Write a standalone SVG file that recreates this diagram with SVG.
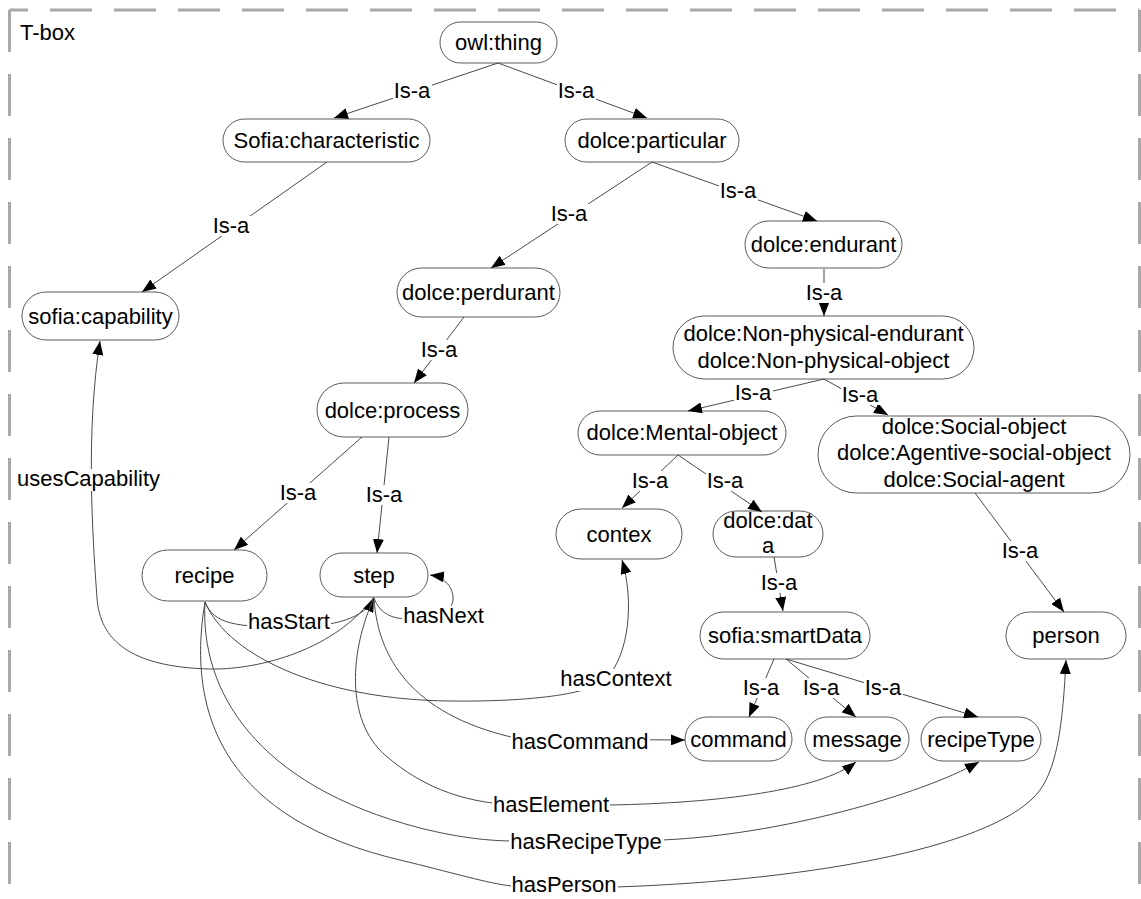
<svg xmlns="http://www.w3.org/2000/svg" width="1141" height="899" viewBox="0 0 1141 899">
  <defs>
    <marker id="arr" markerUnits="userSpaceOnUse" viewBox="0 0 14 11" markerWidth="14" markerHeight="11" refX="14" refY="5.5" orient="auto">
      <path d="M0,0 L14,5.5 L0,11 z" fill="#000"/>
    </marker>
    <style>
      text { font-family: "Liberation Sans", Arial, sans-serif; font-size: 22px; fill: #000; }
      .node rect { fill: #fff; stroke: #5a5a5a; stroke-width: 1; }
      .node text { text-anchor: middle; }
      .edge { fill: none; stroke: #4a4a4a; stroke-width: 1; marker-end: url(#arr); }
      .lbl rect { fill: #fff; }
      .lbl text { text-anchor: middle; }
      .frame { fill: none; stroke: #a8a8a8; stroke-width: 3; stroke-dasharray: 42 22; }
    </style>
  </defs>

  <rect width="1141" height="899" fill="#fff"/>

  <!-- dashed T-box frame -->
  <g id="frame">
    <line class="frame" x1="9.5" y1="10" x2="9.5" y2="899"/>
    <line class="frame" x1="9.5" y1="10" x2="1139.5" y2="10" stroke-dashoffset="23.5"/>
    <line class="frame" x1="1139.5" y1="10" x2="1139.5" y2="899"/>
    <text x="20" y="40">T-box</text>
  </g>

  <!-- classes -->
  <g id="nodes">
    <g id="owl-thing" class="node"><rect x="440" y="22" width="117" height="41" rx="20.5"/><text x="498.5" y="50">owl:thing</text></g>
    <g id="sofia-characteristic" class="node"><rect x="223" y="119" width="207" height="43" rx="21.5"/><text x="326.5" y="148">Sofia:characteristic</text></g>
    <g id="dolce-particular" class="node"><rect x="565" y="119" width="174" height="43" rx="21.5"/><text x="652" y="148">dolce:particular</text></g>
    <g id="dolce-endurant" class="node"><rect x="745" y="221" width="157" height="47" rx="23.5"/><text x="823.5" y="252">dolce:endurant</text></g>
    <g id="sofia-capability" class="node"><rect x="22" y="292" width="157" height="48" rx="24"/><text x="100.5" y="323.5">sofia:capability</text></g>
    <g id="dolce-perdurant" class="node"><rect x="397" y="268" width="163" height="49" rx="24.5"/><text x="478.5" y="300">dolce:perdurant</text></g>
    <g id="dolce-process" class="node"><rect x="317" y="383" width="151" height="54" rx="27"/><text x="392.5" y="417.5">dolce:process</text></g>
    <g id="recipe" class="node"><rect x="142" y="550" width="125" height="51" rx="25.5"/><text x="204.5" y="583">recipe</text></g>
    <g id="step" class="node"><rect x="320" y="553" width="108" height="44" rx="22"/><text x="374" y="582.5">step</text></g>
    <g id="dolce-non-physical" class="node"><rect x="673" y="316" width="301" height="63" rx="31.5"/><text x="823.5" y="341">dolce:Non-physical-endurant</text><text x="823.5" y="368">dolce:Non-physical-object</text></g>
    <g id="dolce-mental-object" class="node"><rect x="578" y="411" width="208" height="44" rx="22"/><text x="682" y="440">dolce:Mental-object</text></g>
    <g id="dolce-social-object" class="node"><rect x="818" y="416" width="312" height="77" rx="38.5"/><text x="974" y="434">dolce:Social-object</text><text x="974" y="460">dolce:Agentive-social-object</text><text x="974" y="487">dolce:Social-agent</text></g>
    <g id="contex" class="node"><rect x="556" y="509" width="126" height="50" rx="25"/><text x="619" y="541.5">contex</text></g>
    <g id="dolce-data" class="node"><rect x="713" y="511" width="110" height="46" rx="23"/><text x="768" y="528">dolce:dat</text><text x="768" y="553">a</text></g>
    <g id="sofia-smartdata" class="node"><rect x="700" y="612" width="170" height="47" rx="23.5"/><text x="785" y="643">sofia:smartData</text></g>
    <g id="person" class="node"><rect x="1006" y="612" width="120" height="47" rx="23.5"/><text x="1066" y="643">person</text></g>
    <g id="command" class="node"><rect x="685" y="717" width="107" height="44" rx="22"/><text x="738.5" y="746.5">command</text></g>
    <g id="message" class="node"><rect x="805" y="717" width="104" height="44" rx="22"/><text x="857" y="746.5">message</text></g>
    <g id="recipeType" class="node"><rect x="921" y="717" width="120" height="44" rx="22"/><text x="981" y="746.5">recipeType</text></g>
  </g>

  <!-- relations -->
  <g id="connectors">
    <!-- subclass links -->
    <path class="edge" d="M498,63 L334,118"/>
    <path class="edge" d="M498,63 L647,118"/>
    <path class="edge" d="M327,162 L142,292"/>
    <path class="edge" d="M652,162 L491,268"/>
    <path class="edge" d="M652,162 L817,221"/>
    <path class="edge" d="M824,269 L824,316"/>
    <path class="edge" d="M464,317 L414,383"/>
    <path class="edge" d="M362,437 L234,550"/>
    <path class="edge" d="M389,437 L377,553"/>
    <path class="edge" d="M824,379 L688,411"/>
    <path class="edge" d="M824,379 L888,415"/>
    <path class="edge" d="M678,455 L622,508"/>
    <path class="edge" d="M678,455 L762,512"/>
    <path class="edge" d="M774,557 L783,611"/>
    <path class="edge" d="M975,493 L1064,612"/>
    <path class="edge" d="M774,659 L749,717"/>
    <path class="edge" d="M786,659 L856,717"/>
    <path class="edge" d="M786,659 L978,717"/>

    <!-- object properties -->
    <path class="edge" d="M374,597 C330,655 250,670 210,669 C130,667 100,640 97,598 C92,530 86,430 100,341"/>
    <path class="edge" d="M205,602 C214,624 235,627 289,627 C335,627 365,618 374,598"/>
    <path class="edge" d="M374,598 C380,614 392,619 410,619 C440,619 452,610 453,600 C454,588 445,577 430,575"/>
    <path class="edge" d="M205,602 C230,660 330,700 450,701 C530,702 590,694 605,680 C630,655 634,600 622,560"/>
    <path class="edge" d="M374,598 C378,665 420,718 520,739 L685,740"/>
    <path class="edge" d="M374,598 C350,650 345,720 385,755 C425,790 470,804 520,805 L610,805 C720,803 820,790 856,762"/>
    <path class="edge" d="M205,602 C200,690 255,785 420,828 C460,838 490,841 515,841 L662,840 C780,835 920,795 979,762"/>
    <path class="edge" d="M205,602 C185,720 230,820 400,860 C450,872 490,884 512,886 L616,887 C820,880 1000,845 1040,790 C1058,765 1063,720 1066,660"/>

    <!-- link labels -->
    <g class="lbl">
      <rect x="393" y="81" width="39" height="20"/><text x="412" y="98">Is-a</text>
      <rect x="557" y="81" width="39" height="20"/><text x="576" y="98">Is-a</text>
      <rect x="212" y="216" width="39" height="20"/><text x="231" y="233">Is-a</text>
      <rect x="550" y="204" width="39" height="20"/><text x="569" y="221">Is-a</text>
      <rect x="719" y="181" width="39" height="20"/><text x="738" y="198">Is-a</text>
      <rect x="805" y="283" width="39" height="20"/><text x="824" y="300">Is-a</text>
      <rect x="420" y="340" width="39" height="20"/><text x="439" y="357">Is-a</text>
      <rect x="279" y="483" width="39" height="20"/><text x="298" y="500">Is-a</text>
      <rect x="365" y="485" width="39" height="20"/><text x="384" y="502">Is-a</text>
      <rect x="734" y="383" width="39" height="20"/><text x="753" y="400">Is-a</text>
      <rect x="841" y="385" width="39" height="20"/><text x="860" y="402">Is-a</text>
      <rect x="631" y="471" width="39" height="20"/><text x="650" y="488">Is-a</text>
      <rect x="706" y="471" width="39" height="20"/><text x="725" y="488">Is-a</text>
      <rect x="760" y="573" width="39" height="20"/><text x="779" y="590">Is-a</text>
      <rect x="1001" y="541" width="39" height="20"/><text x="1020" y="558">Is-a</text>
      <rect x="742" y="678" width="39" height="20"/><text x="761" y="695">Is-a</text>
      <rect x="802" y="678" width="39" height="20"/><text x="821" y="695">Is-a</text>
      <rect x="864" y="678" width="39" height="20"/><text x="883" y="695">Is-a</text>

      <rect x="16" y="469" width="145" height="22"/><text x="88.5" y="486">usesCapability</text>
      <rect x="247" y="612" width="84" height="22"/><text x="289" y="629">hasStart</text>
      <rect x="402" y="606" width="83" height="22"/><text x="443.5" y="623">hasNext</text>
      <rect x="559" y="669" width="114" height="22"/><text x="616" y="686">hasContext</text>
      <rect x="511" y="732" width="139" height="22"/><text x="580" y="749">hasCommand</text>
      <rect x="492" y="795" width="118" height="22"/><text x="551" y="812">hasElement</text>
      <rect x="509" y="832" width="155" height="22"/><text x="586" y="849">hasRecipeType</text>
      <rect x="511" y="875" width="107" height="22"/><text x="564" y="892">hasPerson</text>
    </g>
  </g>
</svg>
